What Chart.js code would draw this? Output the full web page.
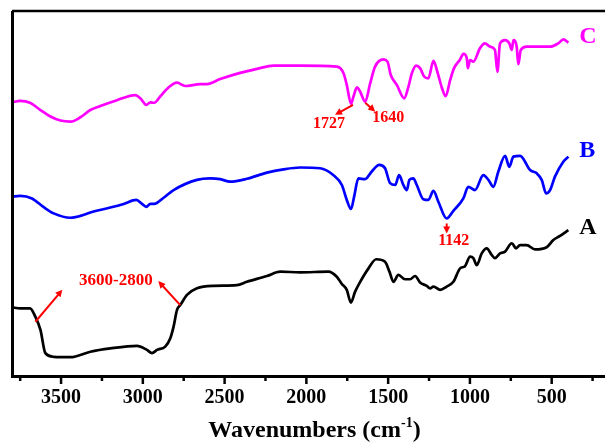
<!DOCTYPE html>
<html>
<head>
<meta charset="utf-8">
<script src="https://cdn.jsdelivr.net/npm/chart.js@4/dist/chart.umd.min.js"></script>
<style>
  html, body { margin: 0; padding: 0; background: #fff; }
  #ftir { display: block; }
</style>
</head>
<body>
<canvas id="ftir" width="605" height="444"></canvas>
<script>
// FTIR spectra, transmittance in arbitrary offset units
const majorTicks = [3500, 3000, 2500, 2000, 1500, 1000, 500];
const minorTicks = [3750, 3250, 2750, 2250, 1750, 1250, 750, 250];
const seriesNames = ['A', 'B', 'C'];

const waveC = [3800, 3750, 3690, 3626, 3565, 3504, 3443, 3382, 3321, 3260, 3158, 3046, 3015, 2979, 2954, 2930, 2892, 2843, 2791, 2741, 2649, 2608, 2527, 2405, 2302, 2201, 2038,
  1814, 1773, 1753, 1727, 1712, 1691, 1671, 1640, 1610, 1580, 1529, 1504, 1484, 1447, 1402, 1376, 1355, 1329, 1305, 1280, 1254, 1223, 1199, 1172, 1148, 1121, 1097,
  1060, 1040, 1019, 1013, 999, 979, 938, 908, 877, 847, 832, 816, 785, 759, 744, 734, 714, 704, 689, 653, 571, 510, 460, 429, 398];
const valC = [74.9, 75.3, 74.8, 72.8, 71.0, 69.9, 69.6, 70.8, 72.8, 73.9, 75.5, 76.9, 76.0, 74.2, 74.9, 74.8, 76.6, 79.0, 80.3, 79.4, 79.9, 79.9, 81.3, 83.0, 84.1, 85.0, 85.0,
  84.7, 82.9, 79.7, 74.5, 76.5, 79.0, 77.8, 75.1, 80.1, 84.7, 86.7, 86.1, 82.4, 79.7, 76.0, 79.2, 82.9, 85.0, 84.3, 82.0, 81.5, 86.3, 83.3, 79.0, 76.6, 81.0, 84.3,
  86.7, 88.2, 87.0, 84.3, 86.5, 86.1, 89.8, 91.1, 90.2, 89.3, 83.3, 91.1, 92.0, 91.1, 89.3, 92.0, 90.2, 85.4, 89.3, 90.2, 90.2, 90.2, 91.1, 92.2, 91.3];

const waveB = [3800, 3750, 3678, 3606, 3545, 3443, 3382, 3301, 3199, 3117, 3040, 3005, 2979, 2954, 2930, 2873, 2812, 2669, 2588, 2527, 2466, 2364, 2241, 2140, 2038,
  1916, 1834, 1783, 1753, 1727, 1708, 1682, 1641, 1600, 1555, 1519, 1488, 1457, 1433, 1407, 1386, 1370, 1346, 1325, 1285, 1254, 1223, 1193, 1142, 1101,
  1040, 1010, 969, 918, 887, 857, 826, 785, 759, 734, 693, 632, 591, 561, 534, 510, 480, 429, 398];
const valB = [49.0, 49.2, 48.5, 46.1, 44.4, 43.2, 43.7, 44.9, 46.0, 47.0, 48.1, 47.0, 46.2, 47.0, 47.0, 48.7, 50.8, 53.6, 54.0, 53.8, 53.1, 53.9, 55.6, 56.5, 57.0,
  56.8, 54.9, 52.2, 48.1, 45.6, 49.0, 54.0, 53.8, 55.9, 57.7, 56.8, 52.7, 52.2, 54.9, 52.2, 50.8, 53.6, 54.0, 52.2, 48.3, 48.1, 50.6, 47.6, 43.0, 45.1,
  48.5, 51.7, 50.8, 54.9, 53.6, 51.7, 55.9, 60.2, 57.2, 60.0, 60.2, 56.3, 55.4, 53.6, 49.9, 50.8, 54.5, 58.6, 60.0];

const waveA = [3800, 3750, 3690, 3657, 3626, 3596, 3545, 3443, 3321, 3199, 3036, 2975, 2944, 2913, 2863, 2832, 2812, 2791, 2771, 2730, 2669, 2568, 2425, 2364, 2241, 2160, 2038,
  1865, 1814, 1783, 1753, 1728, 1702, 1671, 1620, 1573, 1519, 1492, 1468, 1437, 1397, 1366, 1335, 1305, 1264, 1244, 1223, 1182, 1142, 1101,
  1060, 1030, 999, 979, 958, 928, 897, 867, 847, 816, 785, 744, 718, 693, 653, 602, 531, 490, 449, 398];
const valA = [18.6, 18.3, 18.3, 16.0, 12.4, 6.0, 5.0, 4.9, 6.4, 7.3, 8.0, 6.9, 6.0, 6.9, 7.8, 10.1, 13.3, 17.9, 19.2, 22.0, 23.8, 24.5, 24.7, 25.6, 27.2, 28.4, 28.2,
  28.4, 27.0, 25.0, 23.4, 19.9, 22.9, 25.6, 29.3, 31.8, 31.1, 28.4, 25.6, 27.5, 26.3, 26.3, 27.2, 25.4, 24.5, 23.8, 24.3, 23.4, 24.3, 25.6,
  29.3, 29.9, 32.5, 32.1, 30.2, 33.4, 34.8, 33.0, 32.1, 33.4, 33.9, 36.2, 34.8, 35.7, 35.7, 34.5, 35.1, 37.1, 38.2, 39.8];

// marked bands: [series index, wavenumber, label]
const peakMarks = [[2, 1727, '1727'], [2, 1640, '1640'], [1, 1142, '1142']];
// O-H / C-H stretching region marked on spectrum A
const bandEdges = [3657, 2771];
const bandLabel = '3600-2800';

const colors = ['#000000', '#0000ff', '#ff00ff'];
const pts = (w, v) => w.map((x, i) => ({ x, y: v[i] }));
const series = [pts(waveA, valA), pts(waveB, valB), pts(waveC, valC)];

const serif = '"Liberation Serif", "Times New Roman", serif';

function arrow(ctx, x1, y1, x2, y2) {
  const ang = Math.atan2(y2 - y1, x2 - x1), hl = 7, hw = 3.5;
  ctx.beginPath();
  ctx.moveTo(x1, y1);
  ctx.lineTo(x2 - Math.cos(ang) * hl * 0.8, y2 - Math.sin(ang) * hl * 0.8);
  ctx.stroke();
  ctx.beginPath();
  ctx.moveTo(x2, y2);
  ctx.lineTo(x2 - Math.cos(ang) * hl - Math.sin(ang) * hw, y2 - Math.sin(ang) * hl + Math.cos(ang) * hw);
  ctx.lineTo(x2 - Math.cos(ang) * hl + Math.sin(ang) * hw, y2 - Math.sin(ang) * hl - Math.cos(ang) * hw);
  ctx.closePath();
  ctx.fill();
}

const decor = {
  id: 'decor',
  afterDatasetsDraw(chart) {
    const { ctx, chartArea: a, scales: { x, y } } = chart;
    const px = (w) => x.getPixelForValue(w);
    const py = (v) => y.getPixelForValue(v);
    ctx.save();

    // axis frame (open on the right)
    ctx.strokeStyle = '#000';
    ctx.lineWidth = 3;
    ctx.beginPath();
    ctx.moveTo(a.left + 0.5, a.top);
    ctx.lineTo(a.left + 0.5, a.bottom + 1.5);
    ctx.lineTo(a.right, a.bottom + 1.5);
    ctx.stroke();
    ctx.lineWidth = 2.5;
    ctx.beginPath();
    ctx.moveTo(a.left, a.top);
    ctx.lineTo(a.right, a.top);
    ctx.stroke();

    // ticks and labels
    ctx.lineWidth = 2.5;
    majorTicks.forEach((w) => {
      ctx.beginPath();
      ctx.moveTo(px(w), a.bottom + 2);
      ctx.lineTo(px(w), a.bottom + 9);
      ctx.stroke();
    });
    minorTicks.forEach((w) => {
      ctx.beginPath();
      ctx.moveTo(px(w), a.bottom + 2);
      ctx.lineTo(px(w), a.bottom + 6);
      ctx.stroke();
    });
    ctx.fillStyle = '#000';
    ctx.font = 'bold 20px ' + serif;
    ctx.textAlign = 'center';
    ctx.textBaseline = 'alphabetic';
    majorTicks.forEach((w) => ctx.fillText(String(w), px(w), a.bottom + 28));

    // axis title with superscript
    const main = 'Wavenumbers (cm', sup = '-1', tail = ')';
    ctx.font = 'bold 24px ' + serif;
    const w1 = ctx.measureText(main).width, w3 = ctx.measureText(tail).width;
    ctx.font = 'bold 14px ' + serif;
    const w2 = ctx.measureText(sup).width;
    const tx = (a.left + a.right) / 2 + 6 - (w1 + w2 + w3) / 2;
    const ty = a.bottom + 62;
    ctx.textAlign = 'left';
    ctx.font = 'bold 24px ' + serif;
    ctx.fillText(main, tx, ty);
    ctx.font = 'bold 14px ' + serif;
    ctx.fillText(sup, tx + w1, ty - 10);
    ctx.font = 'bold 24px ' + serif;
    ctx.fillText(tail, tx + w1 + w2, ty);

    // series letters next to the low-wavenumber end
    ctx.textBaseline = 'middle';
    ctx.font = 'bold 24px ' + serif;
    series.forEach((s, i) => {
      const last = s[s.length - 1];
      ctx.fillStyle = colors[i];
      ctx.fillText(seriesNames[i], px(last.x) + 11, py(last.y) - [2, 6, 6][i]);
    });

    // band annotations
    ctx.strokeStyle = '#ff0000';
    ctx.fillStyle = '#ff0000';
    ctx.lineWidth = 2;
    ctx.textAlign = 'center';
    ctx.font = 'bold 16px ' + serif;
    const offs = {
      '1727': [2, 1, -16, 11, -22, 20],
      '1640': [0, 1, 10, 10, 23, 16],
      '1142': [0, 5, 0, 15, 7, 22]
    };
    peakMarks.forEach(([si, w, label]) => {
      const p = series[si].find((d) => d.x === w);
      const x0 = px(p.x), y0 = py(p.y), o = offs[label];
      arrow(ctx, x0 + o[0], y0 + o[1], x0 + o[2], y0 + o[3]);
      ctx.fillText(label, x0 + o[4], y0 + o[5]);
    });

    const pa = series[0].find((d) => d.x === bandEdges[0]);
    const pb = series[0].find((d) => d.x === bandEdges[1]);
    const ax = px(pa.x), ay = py(pa.y) + 5, bx = px(pb.x), by = py(pb.y);
    arrow(ctx, ax, ay, ax + 27, ay - 32);
    arrow(ctx, bx, by, bx - 22, by - 24);
    ctx.font = 'bold 17px ' + serif;
    ctx.fillText(bandLabel, (ax + bx) / 2 + 8, by - 25);

    ctx.restore();
  }
};

new Chart(document.getElementById('ftir'), {
  type: 'line',
  data: {
    datasets: series.map((s, i) => ({
      label: seriesNames[i],
      data: s,
      borderColor: colors[i],
      borderWidth: 2.7,
      pointRadius: 0,
      cubicInterpolationMode: 'monotone',
      fill: false
    }))
  },
  options: {
    responsive: false,
    animation: false,
    devicePixelRatio: 1,
    parsing: false,
    layout: { padding: { left: 12, top: 11, right: 0, bottom: 69 } },
    scales: {
      x: { type: 'linear', reverse: true, min: 174, max: 3800, display: false },
      y: { min: 0, max: 100, display: false }
    },
    plugins: { legend: { display: false }, tooltip: { enabled: false } }
  },
  plugins: [decor]
});
</script>
</body>
</html>
